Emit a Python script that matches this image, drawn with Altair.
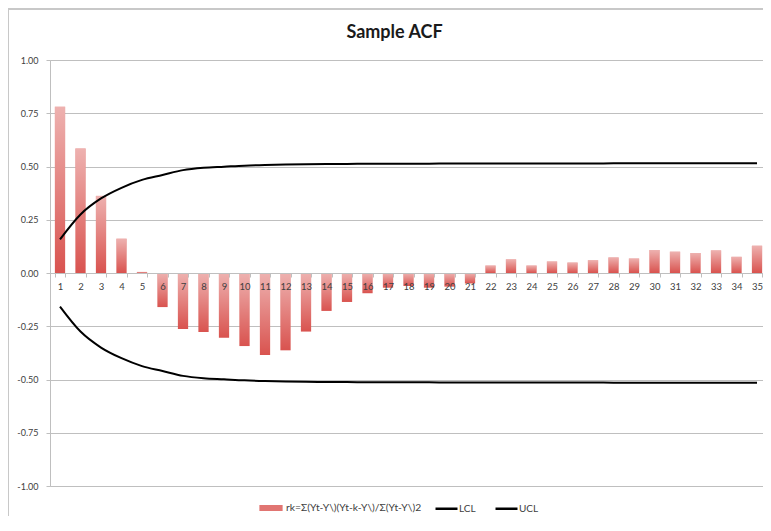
import altair as alt
import pandas as pd

lags = list(range(1, 36))
acf = [0.78, 0.584, 0.362, 0.161, 0.005, -0.16, -0.263, -0.277, -0.304, -0.343,
       -0.385, -0.363, -0.275, -0.178, -0.136, -0.095, -0.069, -0.061, -0.069, -0.064,
       -0.049, 0.035, 0.064, 0.035, 0.054, 0.049, 0.06, 0.073, 0.068, 0.108,
       0.1, 0.094, 0.106, 0.076, 0.128]
ucl = [0.158, 0.275, 0.350, 0.40, 0.437, 0.46, 0.483, 0.494, 0.499, 0.504,
       0.507, 0.509, 0.511, 0.512, 0.512, 0.513, 0.513, 0.513, 0.513, 0.514,
       0.514, 0.514, 0.514, 0.514, 0.514, 0.514, 0.514, 0.515, 0.515, 0.515,
       0.515, 0.515, 0.515, 0.515, 0.515]
lcl = [-0.158, -0.275, -0.350, -0.40, -0.437, -0.46, -0.483, -0.494, -0.499, -0.504,
       -0.507, -0.509, -0.511, -0.512, -0.512, -0.513, -0.513, -0.513, -0.513, -0.514,
       -0.514, -0.514, -0.514, -0.514, -0.514, -0.514, -0.514, -0.515, -0.515, -0.515,
       -0.515, -0.515, -0.515, -0.515, -0.515]
y_ticks = [-1.0, -0.75, -0.5, -0.25, 0.0, 0.25, 0.5, 0.75, 1.0]

RK = "rk=Σ(Yt-Y\\)(Yt-k-Y\\)/Σ(Yt-Y\\)2"
line_names = ["LCL", "UCL"]

bars_df = pd.DataFrame({"lag": lags, "value": acf, "series": RK})
lines_df = pd.concat([
    pd.DataFrame({"lag": lags, "value": lcl, "series": "LCL"}),
    pd.DataFrame({"lag": lags, "value": ucl, "series": "UCL"}),
])

W, H = 713, 426
FONT = "Lato"
GRID = "#BFBFBF"
LABEL = "#404040"
LEG_Y = 436

x_enc = alt.X("lag:O", sort=lags,
              scale=alt.Scale(paddingInner=0.5, paddingOuter=0.14, align=0.85),
              axis=alt.Axis(title=None, orient="bottom", offset=-H / 2, labelAngle=0,
                            labelFont=FONT, labelFontSize=9.5, labelColor=LABEL,
                            labelPadding=4, domainColor=GRID, tickColor=GRID,
                            tickSize=4, tickBand="extent", grid=False, zindex=1))
y_enc = alt.Y("value:Q", scale=alt.Scale(domain=[-1, 1], nice=False),
              axis=alt.Axis(title=None, values=y_ticks, grid=True, gridColor=GRID,
                            domainColor=GRID, tickColor=GRID, tickSize=4,
                            labelFont=FONT, labelFontSize=9, labelColor=LABEL,
                            labelPadding=8,
                            labelExpr="replace(format(datum.value, '.2f'), '\u2212', '-')"))

bar_color = alt.Color(
    "series:N",
    scale=alt.Scale(domain=[RK], range=["#D9534F"]),
    legend=alt.Legend(
        title=None, orient="none", legendX=209, legendY=LEG_Y, direction="horizontal",
        symbolType="M-1,-0.26H1V0.26H-1Z", symbolSize=540, symbolStrokeWidth=0,
        symbolOpacity=0.8,
        labelFont=FONT, labelFontSize=10.3, labelColor=LABEL, labelOffset=3, padding=0,
    ),
)
line_stroke = alt.Stroke(
    "series:N",
    scale=alt.Scale(domain=line_names, range=["#000000", "#000000"]),
    legend=alt.Legend(
        title=None, orient="none", legendX=384, legendY=LEG_Y, direction="horizontal",
        symbolType="stroke", symbolSize=484, symbolStrokeWidth=2.5,
        labelFont=FONT, labelFontSize=10, labelColor=LABEL, labelOffset=0,
        columnPadding=14, padding=0,
    ),
)

bars = alt.Chart(bars_df).mark_bar().encode(x=x_enc, y=y_enc, color=bar_color)

shine = alt.Chart(bars_df).mark_bar(
    fill=alt.Gradient(gradient="linear", x1=0, x2=0, y1=0, y2=1,
                      stops=[alt.GradientStop(color="rgba(255,255,255,0.55)", offset=0),
                             alt.GradientStop(color="rgba(255,255,255,0)", offset=1)])
).encode(x=alt.X("lag:O", sort=lags), y="value:Q")

lines = alt.Chart(lines_df).mark_line(strokeWidth=2, interpolate="monotone").encode(
    x=alt.X("lag:O", sort=lags), y="value:Q", stroke=line_stroke, detail="series:N")

frame = alt.Data(values=[{}])
border_left = alt.Chart(frame).mark_rule(color="#C8C8C8", strokeWidth=2).encode(
    x=alt.value(-42), y=alt.value(-51), y2=alt.value(H + 45))
border_top = alt.Chart(frame).mark_rule(color="#C8C8C8", strokeWidth=2).encode(
    x=alt.value(-42), x2=alt.value(W), y=alt.value(-51))

chart = alt.layer(border_left, border_top, bars, shine, lines).properties(
    width=W, height=H,
    title=alt.TitleParams("Sample ACF", font=FONT, fontSize=18, fontWeight="bold",
                          color="#1a1a1a", anchor="middle", dx=-12, dy=52, offset=18),
    autosize=alt.AutoSizeParams(type="none"),
    padding={"left": 42, "top": 52, "right": 0, "bottom": 30},
).resolve_scale(color="independent", stroke="independent"
).configure_view(stroke=None).configure(background="white")

chart.save("out.html", embed_options={"renderer": "svg", "actions": False})
